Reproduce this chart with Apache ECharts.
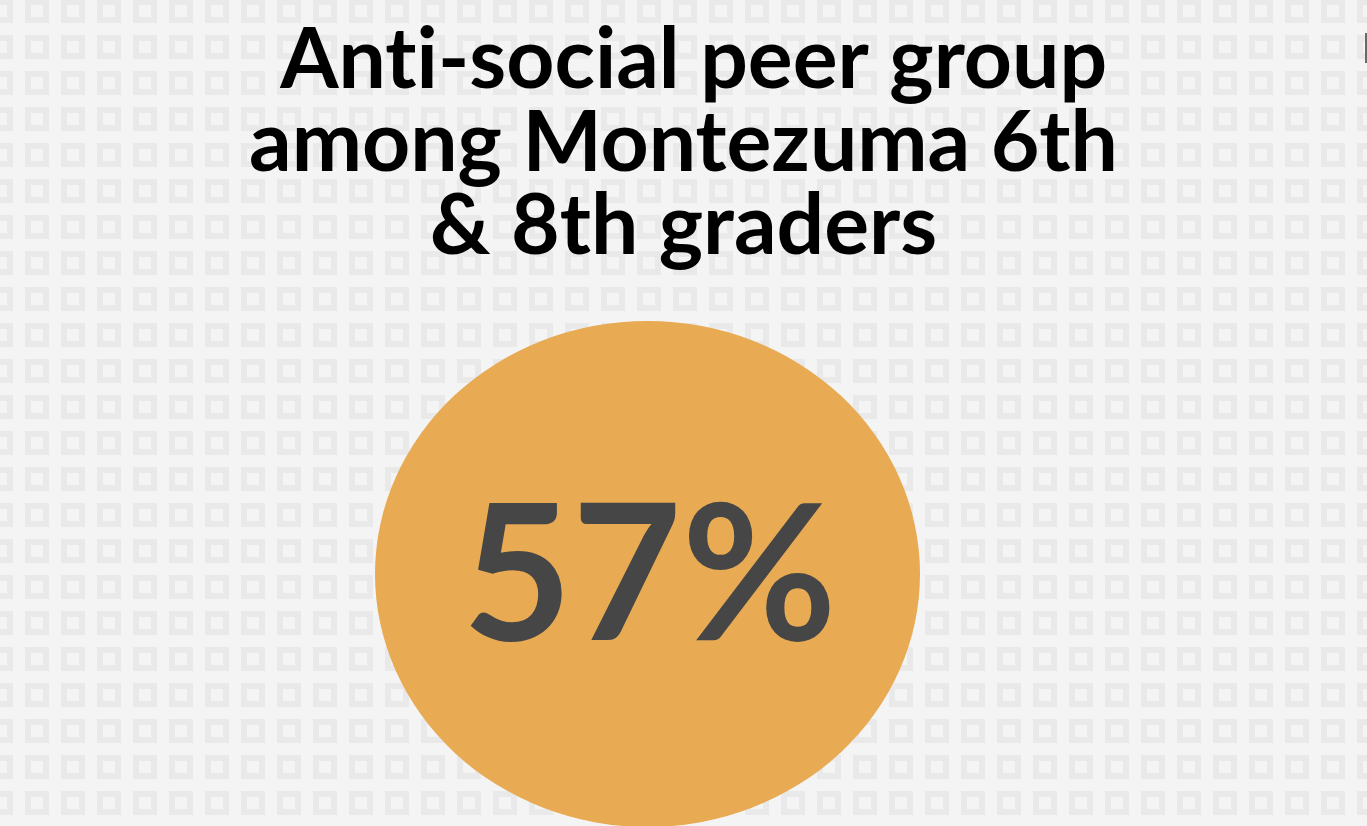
<!DOCTYPE html>
<html>
<head>
<meta charset="utf-8">
<script src="https://cdn.jsdelivr.net/npm/echarts@6/dist/echarts.min.js"></script>
<style>
    html, body { margin: 0; padding: 0; }
    #chart { width: 1367px; height: 826px; }
</style>
</head>
<body>
<div id="chart"></div>
<script>
// data
const titleLines = [' Anti-social peer group', 'among Montezuma 6th', '& 8th graders']
const groups = ['Montezuma 6th & 8th']
const shares = [57]

// tiled background: light squares on grey, period 36px
function makeTile() {
    let c = document.createElement('canvas')
    c.width = 36
    c.height = 36
    let ctx = c.getContext('2d')
    ctx.fillStyle = '#f4f4f4'
    ctx.fillRect(0, 0, 36, 36)
    ctx.strokeStyle = '#e9e9e9'
    ctx.lineWidth = 6
    ;[25, -11].forEach(function(dx) {
        ;[35, -1].forEach(function(dy) {
            ctx.strokeRect(dx + 3, dy + 3, 18, 18)
        })
    })
    return c
}

// split "ti" into separate rich tokens so the font doesn't join them
function titleRich(lines) {
    return lines.map(function(line) {
        return line.split(/(?<=t)(?=i)/).map(function(part) {
            return '{t|' + part + '}'
        }).join('')
    }).join('\n')
}

const titleStyle = {
    fontFamily: 'Lato',
    fontWeight: 'bold',
    fontSize: 84,
    lineHeight: 83,
    color: '#000000',
    align: 'center'
}

let chart = echarts.init(document.getElementById('chart'), null, {renderer: 'canvas'})

const option = {
    backgroundColor: {image: makeTile(), repeat: 'repeat'},
    animation: false,
    title: {
        text: titleRich(titleLines),
        left: 'center',
        top: 14,
        textStyle: Object.assign({}, titleStyle, {rich: {t: titleStyle}})
    },
    grid: {
        left: 375,
        top: 322,
        width: 545,
        height: 506
    },
    xAxis: {
        type: 'category',
        data: groups,
        show: false
    },
    yAxis: {
        type: 'category',
        data: groups,
        show: false
    },
    series: [{
        type: 'scatter',
        symbol: 'circle',
        symbolSize: [545, 506],
        itemStyle: {
            color: '#e8aa52',
            opacity: 1
        },
        label: {
            show: true,
            position: 'inside',
            formatter: function(p) {
                return p.value[2] + '%'
            },
            fontFamily: 'Lato',
            fontWeight: 'bold',
            fontSize: 189,
            color: '#464646',
            offset: [2, 5]
        },
        emphasis: {disabled: true},
        data: shares.map(function(v, i) {
            return [groups[i], groups[i], v]
        })
    }],
    graphic: [{
        type: 'rect',
        shape: {x: 1365, y: 33, width: 2, height: 30},
        style: {fill: '#6a6a6a'}
    }]
}

chart.setOption(option)
</script>
</body>
</html>
